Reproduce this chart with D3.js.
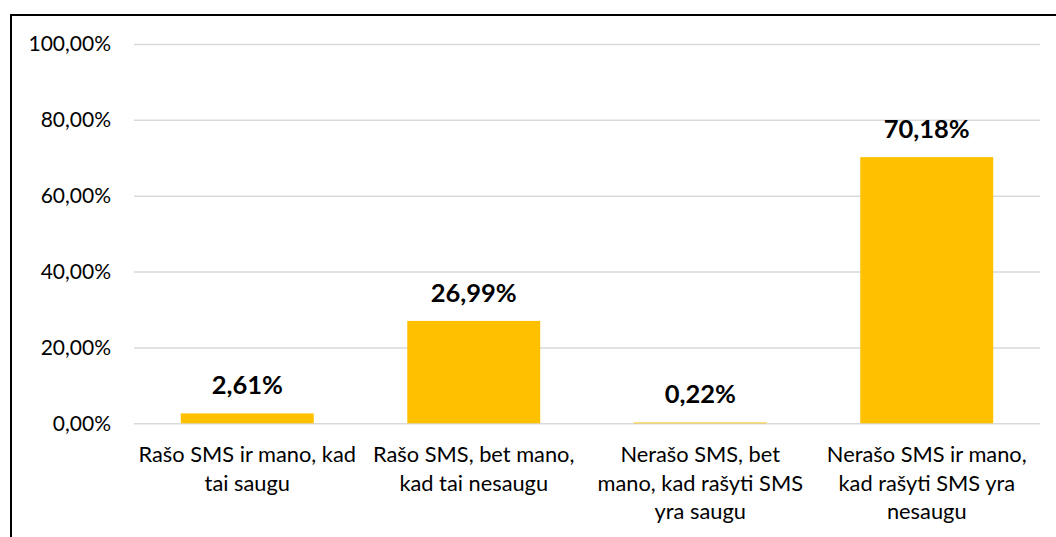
<!DOCTYPE html>
<html>
<head>
<meta charset="utf-8">
<script src="https://cdn.jsdelivr.net/npm/d3@7"></script>
<style>
  html, body { margin: 0; padding: 0; background: #fff; }
  svg { display: block; font-family: Lato, "Open Sans", sans-serif; }
</style>
</head>
<body>
<svg id="chart" width="1056" height="537"></svg>
<script>
'use strict';

// data
const categories = [
  "Rašo SMS ir mano, kad tai saugu",
  "Rašo SMS, bet mano, kad tai nesaugu",
  "Nerašo SMS, bet mano, kad rašyti SMS yra saugu",
  "Nerašo SMS ir mano, kad rašyti SMS yra nesaugu"
];
const categoryLines = [
  ["Rašo SMS ir mano, kad", "tai saugu"],
  ["Rašo SMS, bet mano,", "kad tai nesaugu"],
  ["Nerašo SMS, bet", "mano, kad rašyti SMS", "yra saugu"],
  ["Nerašo SMS ir mano,", "kad rašyti SMS yra", "nesaugu"]
];
const values = [2.61, 26.99, 0.22, 70.18];
const yTicks = [0, 20, 40, 60, 80, 100];

const svg = d3.select("#chart");
const width = 1056;
const height = 537;
const margin = {top: 44, right: 16, bottom: 114, left: 134};
const plotRight = width - margin.right;
const plotBottom = 423.3;

const x = d3.scaleBand()
  .domain(categories)
  .range([margin.left, plotRight])
  .paddingInner(0.413)
  .paddingOuter(0.2065);

const y = d3.scaleLinear()
  .domain([0, 100])
  .range([plotBottom, margin.top]);

const fmt = v => d3.format(".2f")(v).replace(".", ",") + "%";

// frame (only top and left edges are visible in the crop)
svg.append("rect")
  .attr("x", 11)
  .attr("y", 15)
  .attr("width", width + 20)
  .attr("height", height + 20)
  .attr("fill", "none")
  .attr("stroke", "#000")
  .attr("stroke-width", 2);

// gridlines + y labels
const yAxis = d3.axisLeft(y)
  .tickValues(yTicks)
  .tickSize(-(plotRight - margin.left))
  .tickPadding(23)
  .tickFormat(fmt);

svg.append("g")
  .attr("transform", `translate(${margin.left},0)`)
  .call(yAxis)
  .call(g => g.select(".domain").remove())
  .call(g => g.selectAll(".tick line")
    .attr("stroke", "#d9d9d9")
    .attr("stroke-width", 1.5))
  .call(g => g.selectAll(".tick text")
    .attr("fill", "#000")
    .attr("font-size", 21)
    .attr("font-family", "Lato, sans-serif"));

// bars
svg.append("g")
  .selectAll("rect")
  .data(values)
  .join("rect")
  .attr("x", (d, i) => x(categories[i]))
  .attr("y", d => y(d))
  .attr("width", x.bandwidth())
  .attr("height", d => plotBottom - y(d))
  .attr("fill", "#ffc000");

// value labels
svg.append("g")
  .selectAll("text")
  .data(values)
  .join("text")
  .attr("x", (d, i) => x(categories[i]) + x.bandwidth() / 2)
  .attr("y", d => y(d) - 19)
  .attr("text-anchor", "middle")
  .attr("font-size", 25.5)
  .attr("font-weight", "bold")
  .attr("fill", "#000")
  .text(d => fmt(d));

// category labels
const cat = svg.append("g")
  .selectAll("text")
  .data(categories)
  .join("text")
  .attr("x", d => x(d) + x.bandwidth() / 2)
  .attr("y", 462)
  .attr("text-anchor", "middle")
  .attr("font-size", 21.8)
  .attr("fill", "#000");

cat.each(function(d, i) {
  d3.select(this).selectAll("tspan")
    .data(categoryLines[i])
    .join("tspan")
    .attr("x", x(d) + x.bandwidth() / 2)
    .attr("dy", (t, j) => j === 0 ? 0 : 28.5)
    .text(t => t);
});
</script>
</body>
</html>
